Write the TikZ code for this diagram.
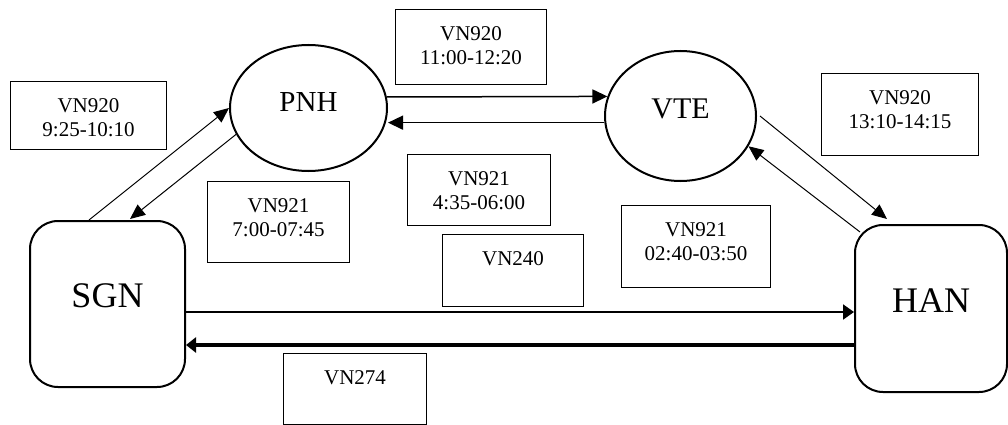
\documentclass[tikz,border=0pt]{standalone}
\usepackage{fontspec}
\setmainfont{Liberation Serif}
\usetikzlibrary{arrows.meta,shapes.geometric}

% flight label: fixed-size box, text set from the top
\newcommand{\flightbox}[3]{\parbox[c][#2][t]{#1}{\centering\fontsize{21}{24}\selectfont\rule{0pt}{31pt}#3\par}}

\tikzset{
  fbox/.style={draw, line width=1pt, inner sep=0pt, anchor=north west},
  city/.style={draw, ellipse, line width=2pt, inner sep=0pt},
  hub/.style={draw, rectangle, rounded corners=28pt, line width=2pt, inner sep=0pt,
              font=\fontsize{36}{42}\selectfont, text depth=16pt},
  thinarr/.style={line width=1pt, -{Triangle[length=15pt,width=13pt]}},
  midarr/.style={line width=1.5pt, -{Triangle[length=15pt,width=14pt]}},
  sarr/.style={line width=2pt, -{Triangle[length=11pt,width=15pt]}},
  tarr/.style={line width=3.5pt, -{Triangle[length=10pt,width=15pt]}},
}

\begin{document}
\begin{tikzpicture}[x=1pt,y=-1pt]
\useasboundingbox (0,0) rectangle (1008,425);

% airports
\node[city, minimum width=157pt, minimum height=126pt,
      font=\fontsize{29}{34}\selectfont, text depth=11pt] (pnh) at (308.5,108) {PNH};
\node[city, minimum width=151pt, minimum height=130pt,
      font=\fontsize{30}{36}\selectfont, text depth=15pt] (vte) at (680.5,116) {VTE};
\node[hub, minimum width=155pt, minimum height=166pt] (sgn) at (107.5,304) {SGN};
\node[hub, minimum width=152pt, minimum height=167pt] (han) at (931,308.5) {HAN};

% flight labels
\node[fbox] (f1) at (10,81)   {\flightbox{156pt}{68pt}{VN920\\9:25-10:10}};
\node[fbox] (f2) at (395,9)   {\flightbox{151pt}{75pt}{VN920\\11:00-12:20}};
\node[fbox] (f3) at (821,73)  {\flightbox{157pt}{82pt}{VN920\\13:10-14:15}};
\node[fbox] (f4) at (207,181) {\flightbox{142pt}{81pt}{VN921\\7:00-07:45}};
\node[fbox] (f5) at (407,154) {\flightbox{143pt}{71pt}{VN921\\4:35-06:00}};
\node[fbox] (f6) at (621,205) {\flightbox{149pt}{82pt}{VN921\\02:40-03:50}};
\node[fbox] (f7) at (442,234) {\flightbox{141pt}{72pt}{VN240}};
\node[fbox] (f8) at (283,353) {\flightbox{143pt}{71pt}{VN274}};

% routes
\draw[thinarr] ([xshift=-18.5pt]sgn.north) -- (pnh.west);
\draw[thinarr] (pnh.200) -- ([xshift=22.5pt,yshift=1pt]sgn.north);
\draw[midarr] (pnh.8) -- (vte.165);
\draw[midarr] (vte.185) -- (vte.185 -| pnh.east);
\draw[thinarr] ([xshift=3pt]vte.east) -- ([xshift=-44pt,yshift=5pt]han.north);
\draw[thinarr] ([xshift=6pt,yshift=-8pt]han.north west) -- (vte.-24);
\draw[sarr] ([yshift=-8pt]sgn.east) -- ([yshift=-8pt]sgn.east -| han.west);
\draw[tarr] ([yshift=-36.5pt]han.west) -- ([yshift=-36.5pt]han.west -| sgn.east);
\end{tikzpicture}
\end{document}
